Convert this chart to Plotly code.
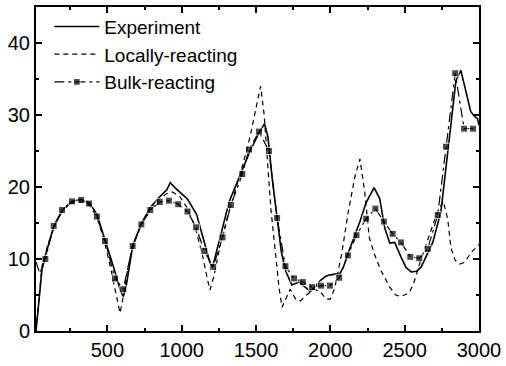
import plotly.graph_objects as go

# Experiment (solid)
exp_x = [20, 40, 60, 90, 140, 200, 260, 320, 380, 430, 480, 540, 590, 607, 625, 670, 730, 790, 850, 900, 923, 960,
         1040, 1100, 1150, 1190, 1208, 1240, 1280, 1320, 1370, 1410, 1460, 1520, 1557, 1580, 1610, 1642, 1670, 1700,
         1741, 1790, 1820, 1865, 1900, 1932, 1970, 2000, 2065, 2090, 2121, 2160, 2199, 2240, 2266, 2294, 2332, 2366,
         2400, 2433, 2477, 2510, 2544, 2580, 2611, 2650, 2689, 2744, 2780, 2811, 2845, 2878, 2911, 2944, 2970, 2990, 3000]
exp_y = [0, 4, 8.5, 11, 14.5, 16.8, 18.0, 18.3, 17.8, 16.2, 13, 9, 5.5, 4.8, 6, 11.8, 15, 17.2, 18.6, 19.6, 20.6, 19.8,
         18.3, 16.2, 12.5, 9.5, 8.9, 11.5, 15, 18, 20.5, 22.5, 25, 27.5, 28.8, 27, 21, 15.7, 11, 8.3,
         6.4, 6.8, 6.3, 5.5, 6.2, 7.0, 7.6, 7.8, 8.0, 9, 10.9, 13, 15.2, 17.8, 18.9, 19.9, 18.4, 14.3,
         12.2, 12.3, 10.2, 8.8, 8.2, 8.3, 8.9, 10.5, 12.3, 16.6, 23, 29.3, 34.8, 36.2, 33.4, 30.5, 29.8, 29.5, 28.6]

# Locally-reacting (dashed)
loc_x = [20, 40, 60, 100, 150, 200, 260, 320, 380, 430, 480, 530, 565, 585, 605, 640, 680, 730, 790, 850, 900, 940,
         990, 1040, 1090, 1140, 1175, 1190, 1215, 1260, 1310, 1360, 1410, 1460, 1500, 1531, 1555, 1575, 1600, 1630,
         1655, 1675, 1700, 1730, 1770, 1800, 1840, 1890, 1930, 1970, 2000, 2030, 2076, 2121, 2166, 2199, 2230, 2262,
         2296, 2340, 2400, 2440, 2477, 2530, 2560, 2600, 2667, 2720, 2760, 2790, 2811, 2840, 2870, 2900, 2956, 3000]
loc_y = [0, 5, 9, 12, 15, 16.8, 17.8, 18.0, 17.5, 15.8, 12.5, 8, 4.5, 2.5, 4.5, 9, 12.2, 14.8, 16.8, 18.3, 19.1, 19.3,
         18.6, 17, 14.5, 10.5, 7, 5.7, 7.5, 12, 16, 19.5, 23, 27, 31, 34.0, 30, 24, 17, 11,
         6, 3.3, 4.5, 5.8, 4.3, 4.2, 5.0, 5.8, 5.5, 4.5, 4.4, 6.0, 10.7, 16.6, 21.5, 23.9, 19.5, 13.0,
         10.7, 8.4, 6.1, 5.0, 4.8, 5.3, 6.6, 9.3, 13.4, 16.5, 18, 15.5, 11.6, 9.8, 9.3, 9.5, 11.1, 12.0]

# Bulk-reacting (dash-dot with square markers)
blk_x = [20, 45, 83, 139, 195, 262, 324, 377, 429, 484, 551, 607, 670, 729, 789, 852, 914, 977, 1039, 1097, 1152,
         1212, 1275, 1331, 1408, 1453, 1520, 1587, 1642, 1698, 1756, 1815, 1876, 1937, 1997, 2060, 2118, 2176, 2241,
         2303, 2360, 2419, 2475, 2538, 2598, 2655, 2722, 2778, 2840, 2900, 2960]
blk_y = [9.6, 8.0, 10.0, 14.6, 16.8, 18.0, 18.2, 17.7, 15.9, 12.5, 7.3, 5.8, 11.8, 14.8, 16.8, 17.9, 18.1, 17.6, 16.6,
         14.4, 11.1, 8.9, 13.0, 17.5, 21.8, 25.2, 27.7, 25.0, 15.7, 9.0, 7.3, 6.8, 6.1, 6.3, 6.3, 7.4, 10.5, 13.3,
         15.6, 17.0, 15.2, 13.5, 12.3, 10.3, 10.1, 11.4, 16.1, 25.6, 35.8, 28.1, 28.1]
blk_marker_sizes = [0, 0] + [7] * (len(blk_x) - 2)

x_ticks = [500, 1000, 1500, 2000, 2500, 3000]
y_ticks = [0, 10, 20, 30, 40]

FONT = "Liberation Sans, Arial, sans-serif"

fig = go.Figure()
fig.add_trace(go.Scatter(x=exp_x, y=exp_y, mode="lines", name="Experiment",
                         line=dict(color="black", width=1.6)))
fig.add_trace(go.Scatter(x=loc_x, y=loc_y, mode="lines", name="Locally-reacting",
                         line=dict(color="black", width=1.2, dash="5px,4px")))
fig.add_trace(go.Scatter(x=blk_x, y=blk_y, mode="lines+markers", name="Bulk-reacting",
                         line=dict(color="black", width=1.2, dash="10px,4px,3px,4px"),
                         marker=dict(symbol="square", size=blk_marker_sizes, color="black")))

axis_common = dict(showline=True, linecolor="black", linewidth=2, mirror="allticks",
                   ticks="inside", ticklen=6, tickwidth=1.5, tickcolor="black",
                   showgrid=False, zeroline=False,
                   tickfont=dict(family=FONT, size=20, color="black"))

fig.update_xaxes(range=[20, 3000], tickvals=x_ticks, ticktext=[str(v) for v in x_ticks],
                 minor=dict(ticks="inside", ticklen=3, tickcolor="black", dtick=250, tick0=250),
                 **axis_common)
fig.update_yaxes(range=[0, 45], tickvals=y_ticks, ticktext=[str(v) for v in y_ticks],
                 minor=dict(ticks="inside", ticklen=3, tickcolor="black", dtick=5, tick0=5),
                 **axis_common)

fig.update_layout(
    width=506, height=366,
    margin=dict(l=36, r=25, t=5, b=31),
    plot_bgcolor="white", paper_bgcolor="white",
    font=dict(family=FONT, size=20, color="black"),
    legend=dict(x=0.03, y=0.998, xanchor="left", yanchor="top", bgcolor="rgba(0,0,0,0)",
                font=dict(family=FONT, size=19, color="black"), itemwidth=45,
                tracegroupgap=0, itemsizing="trace"),
    showlegend=True,
)

fig.write_html("out.html")
